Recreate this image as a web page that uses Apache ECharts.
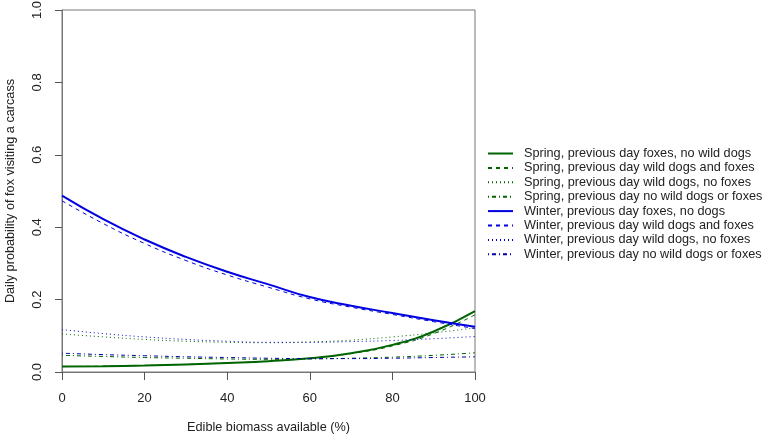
<!DOCTYPE html>
<html>
<head>
<meta charset="utf-8">
<script src="https://cdn.jsdelivr.net/npm/echarts@6/dist/echarts.min.js"></script>
<style>html,body{margin:0;padding:0;background:#fff}#c{width:765px;height:438px}</style>
</head>
<body>
<div id="c"></div>
<script>
var biomass = [0, 10, 20, 30, 40, 50, 60, 70, 80, 90, 100];
var seriesNames = [
  'Spring, previous day foxes, no wild dogs',
  'Spring, previous day wild dogs and foxes',
  'Spring, previous day wild dogs, no foxes',
  'Spring, previous day no wild dogs or foxes',
  'Winter, previous day foxes, no dogs',
  'Winter, previous day wild dogs and foxes',
  'Winter, previous day wild dogs, no foxes',
  'Winter, previous day no wild dogs or foxes'
];
var springFoxes     = [0.015, 0.016, 0.018, 0.021, 0.025, 0.030, 0.038, 0.052, 0.075, 0.112, 0.168];
var springDogsFoxes = [0.015, 0.016, 0.018, 0.021, 0.025, 0.030, 0.038, 0.051, 0.072, 0.106, 0.158];
var springDogs      = [0.105, 0.097, 0.090, 0.085, 0.082, 0.081, 0.083, 0.088, 0.097, 0.108, 0.122];
var springNone      = [0.046, 0.043, 0.040, 0.038, 0.036, 0.035, 0.036, 0.038, 0.041, 0.046, 0.053];
var winterFoxes     = [0.487, 0.422, 0.366, 0.318, 0.277, 0.242, 0.207, 0.183, 0.163, 0.143, 0.125];
var winterDogsFoxes = [0.473, 0.410, 0.355, 0.308, 0.268, 0.234, 0.202, 0.179, 0.159, 0.139, 0.120];
var winterDogs      = [0.117, 0.106, 0.097, 0.090, 0.085, 0.082, 0.082, 0.084, 0.087, 0.092, 0.098];
var winterNone      = [0.052, 0.048, 0.045, 0.042, 0.040, 0.038, 0.037, 0.037, 0.038, 0.040, 0.042];
var xTicks = [0, 20, 40, 60, 80, 100];
var yTicks = [0, 0.2, 0.4, 0.6, 0.8, 1.0];

var allValues = [springFoxes, springDogsFoxes, springDogs, springNone, winterFoxes, winterDogsFoxes, winterDogs, winterNone];
var styles = [
  {color: '#006400', width: 2, type: 'solid'},
  {color: '#006400', width: 1, type: [4, 4]},
  {color: '#006400', width: 1, type: [1, 3]},
  {color: '#006400', width: 1, type: [1, 3, 4, 3]},
  {color: '#0000e0', width: 2, type: 'solid'},
  {color: '#0000e0', width: 1, type: [4, 4]},
  {color: '#0000cd', width: 1, type: [1, 3]},
  {color: '#0000b0', width: 1, type: [1, 3, 4, 3]}
];
var series = seriesNames.map(function (name, i) {
  return {
    name: name,
    type: 'line',
    smooth: true,
    symbol: 'none',
    silent: true,
    animation: false,
    color: styles[i].color,
    lineStyle: {color: styles[i].color, width: styles[i].width, type: styles[i].type},
    data: biomass.map(function (x, j) { return [x, allValues[i][j]]; })
  };
});

var font = 'Liberation Sans, Arial, sans-serif';
var chart = echarts.init(document.getElementById('c'), null, {renderer: 'canvas'});
chart.setOption({
  animation: false,
  backgroundColor: '#fff',
  grid: {left: 62, top: 10, right: 290, bottom: 66, show: true, borderColor: '#777', borderWidth: 1,
         backgroundColor: 'transparent', outerBoundsMode: 'none', containLabel: false},
  legend: {
    orient: 'vertical',
    left: 487,
    top: 147,
    padding: 0,
    itemWidth: 25,
    itemHeight: 9,
    itemGap: 1.4,
    selectedMode: false,
    itemStyle: {opacity: 0},
    textStyle: {fontFamily: font, fontSize: 12.7, color: '#222', padding: [0, 0, 0, 6]},
    data: seriesNames
  },
  xAxis: {
    type: 'value',
    min: 0, max: 100, interval: 20,
    name: 'Edible biomass available (%)',
    nameLocation: 'middle',
    nameGap: 49,
    nameTextStyle: {fontFamily: font, fontSize: 12.7, color: '#222'},
    axisLine: {show: true, lineStyle: {color: '#777'}},
    axisTick: {show: true, length: 8, lineStyle: {color: '#555'}},
    axisLabel: {fontFamily: font, fontSize: 13, color: '#222', margin: 20,
      formatter: function (v) { return xTicks.indexOf(v) >= 0 ? String(v) : ''; }},
    splitLine: {show: false}
  },
  yAxis: {
    type: 'value',
    min: 0, max: 1, interval: 0.2,
    name: 'Daily probability of fox visiting a carcass',
    nameLocation: 'middle',
    nameGap: 45,
    nameTextStyle: {fontFamily: font, fontSize: 12.7, color: '#222'},
    axisLine: {show: true, lineStyle: {color: '#777'}},
    axisTick: {show: true, length: 7, lineStyle: {color: '#555'}},
    axisLabel: {fontFamily: font, fontSize: 13, color: '#222', margin: 18, rotate: 90,
      formatter: function (v) { return v.toFixed(1); }},
    splitLine: {show: false}
  },
  series: series
});
</script>
</body>
</html>
